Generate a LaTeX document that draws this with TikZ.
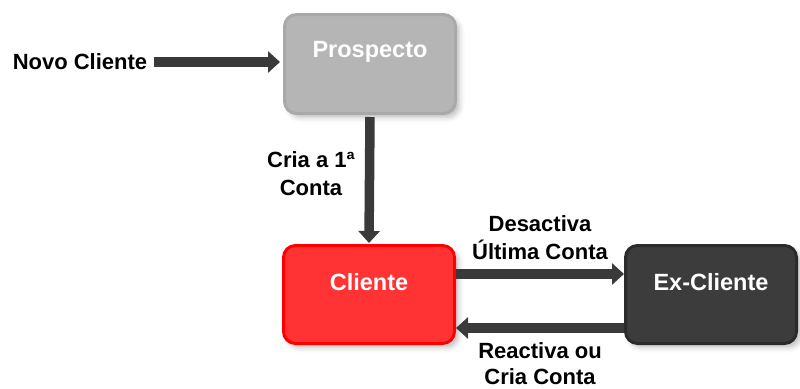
\documentclass[tikz,border=0pt]{standalone}
\usepackage{fontspec}
\setmainfont{Liberation Sans}
\usetikzlibrary{arrows.meta,positioning,shadows.blur}
\definecolor{flowgray}{HTML}{3A3A3A}
\definecolor{prospfill}{HTML}{B5B5B5}
\definecolor{prospdraw}{HTML}{A9A9A9}
\definecolor{clifill}{HTML}{FF3333}
\definecolor{exfill}{HTML}{3C3C3C}
\definecolor{exdraw}{HTML}{2B2B2B}

\begin{document}
\begin{tikzpicture}[
    x=1pt, y=-1pt,
    font=\bfseries\fontsize{22}{28}\selectfont,
    stage/.style={
        rectangle,
        rounded corners=12pt,
        line width=3pt,
        minimum width=171pt,
        inner sep=0pt,
        text=white,
        font=\bfseries\fontsize{23.5}{28}\selectfont,
        blur shadow={shadow xshift=4pt, shadow yshift=-4pt, shadow opacity=25, shadow blur radius=5pt}
    },
    flow/.style={-{Triangle[length=12pt,width=21pt]}, line width=9.5pt, draw=flowgray},
    lbl/.style={align=center, inner sep=1pt}
]
\useasboundingbox (0,0) rectangle (800,388);

% =========================================================
% States
% =========================================================
\node[stage, fill=prospfill, draw=prospdraw, text height=43pt, text depth=56pt] (prospecto) at (370,64) {Prospecto};
\node[stage, fill=clifill, draw=red, text height=45pt, text depth=53pt] (cliente) at (369,294.5) {Cliente};
\node[stage, fill=exfill, draw=exdraw, text height=45pt, text depth=53pt] (excliente) at (711,294.5) {Ex-Cliente};

% Entry
\node[inner sep=3pt] (novo) at (80,62) {Novo Cliente};

% =========================================================
% Transitions
% =========================================================
\draw[flow, shorten <=4pt, shorten >=3pt] (novo.east) -- (novo.east -| prospecto.west);
\draw[flow, shorten <=2pt, shorten >=1pt] (prospecto.south) -- node[lbl, left=9pt, pos=0.455] {Cria a 1ª\\Conta} (cliente.north);

% Cliente <-> Ex-Cliente
\draw[flow] ([yshift=20.5pt]cliente.east) -- node[lbl, above=9pt] {Desactiva\\Última Conta} ([yshift=20.5pt]excliente.west);
\draw[flow] ([yshift=-33.5pt]excliente.west) -- node[lbl, below=9pt, font=\bfseries\fontsize{22}{26}\selectfont] {Reactiva ou\\Cria Conta} ([yshift=-33.5pt]cliente.east);

\end{tikzpicture}
\end{document}
